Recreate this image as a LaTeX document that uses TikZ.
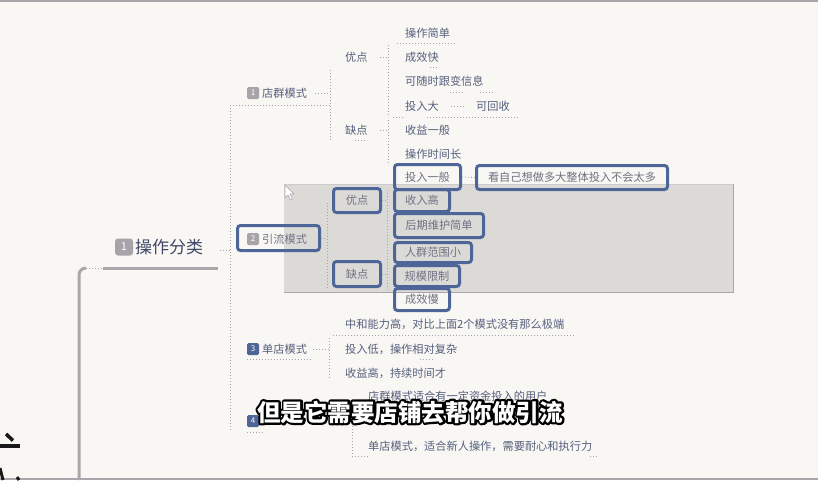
\documentclass[tikz,border=0pt]{standalone}
\usepackage{fontspec}
\setmainfont{Noto Sans CJK SC}
\usetikzlibrary{calc}
\definecolor{bg}{HTML}{F9F7F3}
\definecolor{frame}{HTML}{A9A7AB}
\definecolor{txt}{HTML}{56607E}
\definecolor{boxtxt}{HTML}{6E7182}
\definecolor{maintxt}{HTML}{3E4768}
\definecolor{boxblue}{HTML}{4E6597}
\definecolor{dotc}{HTML}{A3A3AB}
\definecolor{badgegray}{HTML}{A6A4A8}
\definecolor{stip}{HTML}{DCDAD7}
\tikzset{
  lbl/.style={anchor=west, inner sep=0pt, text=txt, font=\fontsize{11.2}{13}\selectfont},
  inbox/.style={inner sep=0pt, text=boxtxt, font=\fontsize{11.2}{13}\selectfont},
  bbox/.style={draw=boxblue, line width=3pt, rounded corners=3pt, inner sep=0pt},
  dl/.style={draw=dotc, line width=0.9pt, dash pattern=on 0.9pt off 2.1pt},
  badge/.style={fill=badgegray, rounded corners=1.5pt, text=white, inner sep=0pt,
    minimum width=12pt, minimum height=12pt, font=\fontsize{8}{8}\selectfont},
  bluebadge/.style={badge, fill=boxblue},
  subt/.style={inner sep=0pt, font=\fontsize{23.5}{25}\selectfont\bfseries}
}
\begin{document}
\begin{tikzpicture}[x=1pt,y=-1pt]
\useasboundingbox (0,0) rectangle (818,480);
\fill[bg] (0,0) rectangle (818,480);
\draw[frame, line width=1.5pt] (0,0.75) -- (818,0.75);
\draw[frame, line width=1.5pt] (0,479.2) -- (818,479.2);

% selection region
\fill[stip] (284,184) rectangle (733,292);
\draw[frame, line width=0.8pt] (733,184) -- (733,292) -- (284,292);
\draw[frame!60, line width=0.5pt] (284,184) -- (733,184);

% main trunk
\coordinate (tb) at (79,480);
\coordinate (tc) at (103,268);
\coordinate (te) at (218,268);
\draw[frame, line width=3pt] (tb) -- (79,275) arc[start angle=180, end angle=270, radius=7] -- (86,268);
\draw[dl] (86,268) -- (tc);
\draw[frame, line width=3pt] (tc) -- (te);

% root
\node[badge, minimum width=18pt, minimum height=17pt, rounded corners=3pt, font=\fontsize{11}{11}\selectfont] (b0) at (124,247) {1};
\node[anchor=west, inner sep=0pt, text=maintxt, font=\fontsize{17}{19}\selectfont] (root) at (135,247) {操作分类};

% level-1 branch line
\coordinate (v1t) at (230,105);
\coordinate (v1b) at (230,432);
\draw[dl] (v1t) -- (v1b);
\draw[dl] (root.east) ++(17,3) -- (230,250);

% level 1 nodes
\node[badge] (b1) at (253,93) {1};
\node[lbl] (m1) at (262,93) {店群模式};
\draw[dl] (v1t) -- (330,105);
\draw[dl] (m1.east) ++(8,0) -- (330,93);
\draw[dl] (330,70) -- (330,140);

\node[bbox, minimum width=82pt, minimum height=25pt] (m2box) at (278.5,238) {};
\node[badge] (b2) at (253,239) {2};
\node[lbl, text=boxtxt] (m2) at (262,239) {引流模式};
\draw[dl] (m2box.east) -- (327,238);
\draw[dl] (327,203) -- (327,288);

\node[bluebadge] (b3) at (253,349) {3};
\node[lbl] (m3) at (262,349) {单店模式};
\draw[dl] (247,359) -- (312,359);
\draw[dl] (m3.east) ++(6,0) -- (329,349);
\draw[dl] (329,338) -- (329,378);

\node[bluebadge] (b4) at (253,421) {4};
\draw[dl] (247,432) -- (265,432);

% level 2 of 店群模式
\node[lbl] (y1) at (345,57) {优点};
\node[lbl] (q1) at (345,130) {缺点};
\draw[dl] (y1.east) ++(12,0) -- (388,57);
\draw[dl] (388,45) -- (388,117);
\draw[dl] (q1.east) ++(12,0) -- (388,130);
\draw[dl] (388,120) -- (388,165);
\draw[dl] (355,140) -- (367,140);

\node[lbl] (a1) at (405,33) {操作简单};
\draw[dl] (397,43) -- (455,43);
\node[lbl] (a2) at (405,57) {成效快};
\draw[dl] (430,67) -- (438,67);
\node[lbl] (a3) at (405,81) {可随时跟变信息};
\draw[dl] (450,92) -- (463,92);
\draw[dl] (480,92) -- (493,92);
\node[lbl] (a4) at (405,106) {投入大};
\node[lbl] (a5) at (476,106) {可回收};
\draw[dl] (a4.east) ++(12,0) -- ($(a5.west)+(-10,0)$);
\draw[dl] (393,117) -- (405,117);
\draw[dl] (427,117) -- (518,117);
\node[lbl] (c1) at (405,130) {收益一般};
\node[lbl] (c2) at (405,154) {操作时间长};

\node[bbox, minimum width=66pt, minimum height=25pt] (c3) at (427.5,177) {};
\node[inbox] at (c3.center) {投入一般};
\node[bbox, minimum width=191pt, minimum height=24pt] (c4) at (572,177.5) {};
\node[inbox] at (c4.center) {看自己想做多大整体投入不会太多};
\draw[dl] (c3.east) -- (c4.west);

% level 2 of 引流模式
\node[bbox, minimum width=47pt, minimum height=24pt] (y2) at (357,200.5) {};
\node[inbox] at (y2.center) {优点};
\node[bbox, minimum width=47pt, minimum height=25pt] (q2) at (357,274) {};
\node[inbox] at (q2.center) {缺点};
\draw[dl] (y2.east) -- (387,200.5);
\draw[dl] (q2.east) -- (387,274);
\draw[dl] (387,190) -- (387,290);

\node[bbox, minimum width=55pt, minimum height=22pt] (d1) at (422,200.5) {};
\node[inbox] at (d1.center) {收入高};
\node[bbox, minimum width=89pt, minimum height=24pt] (d2) at (439,225.5) {};
\node[inbox] at (d2.center) {后期维护简单};
\node[bbox, minimum width=77pt, minimum height=20pt] (d3) at (433,252.5) {};
\node[inbox] at (d3.center) {人群范围小};
\node[bbox, minimum width=65pt, minimum height=21pt] (d4) at (427,276) {};
\node[inbox] at (d4.center) {规模限制};
\node[bbox, minimum width=55pt, minimum height=22pt] (d5) at (422,299.5) {};
\node[inbox] at (d5.center) {成效慢};

% level 2 of 单店模式
\node[lbl] (e1) at (345,324) {中和能力高，对比上面2个模式没有那么极端};
\draw[dl] (333,335) -- (575,335);
\node[lbl] (e2) at (345,349) {投入低，操作相对复杂};
\node[lbl] (e3) at (345,373) {收益高，持续时间才};
\draw[dl] (420,359) -- (435,359);

% level 2 of 4
\node[lbl] (f1) at (368,396) {店群模式适合有一定资金投入的用户};
\node[lbl] (f3) at (368,446) {单店模式，适合新人操作，需要耐心和执行力};
\draw[dl] (352,405) -- (352,455);
\draw[dl] (352,456) -- (370,456);
\draw[dl] (590,456) -- (598,456);

% cursor
\draw[fill=white, draw=frame, line width=0.6pt, line join=round]
  (285,185) -- (285,198) -- (288,195) -- (290.5,200) -- (292.5,199) -- (290,194) -- (294,194) -- cycle;

% partial large glyph at left
\draw[black!90, line width=3.5pt] (6,434) -- (13,440.5);
\fill[black!90] (0,443.5) rectangle (20,447.5);
\draw[black!90, line width=3pt] (0,468) -- (3,480);
\draw[black!90, line width=3pt] (17,477) -- (19,480);

% subtitle
\coordinate (sc) at (410,412);
\node[subt, text=black] (subo) at (sc) {\special{pdf:literal direct 2 Tr 4.4 w 1 j}但是它需要店铺去帮你做引流\special{pdf:literal direct 0 Tr}};
\node[subt, text=white] (sub) at (sc) {但是它需要店铺去帮你做引流};
\end{tikzpicture}
\end{document}
